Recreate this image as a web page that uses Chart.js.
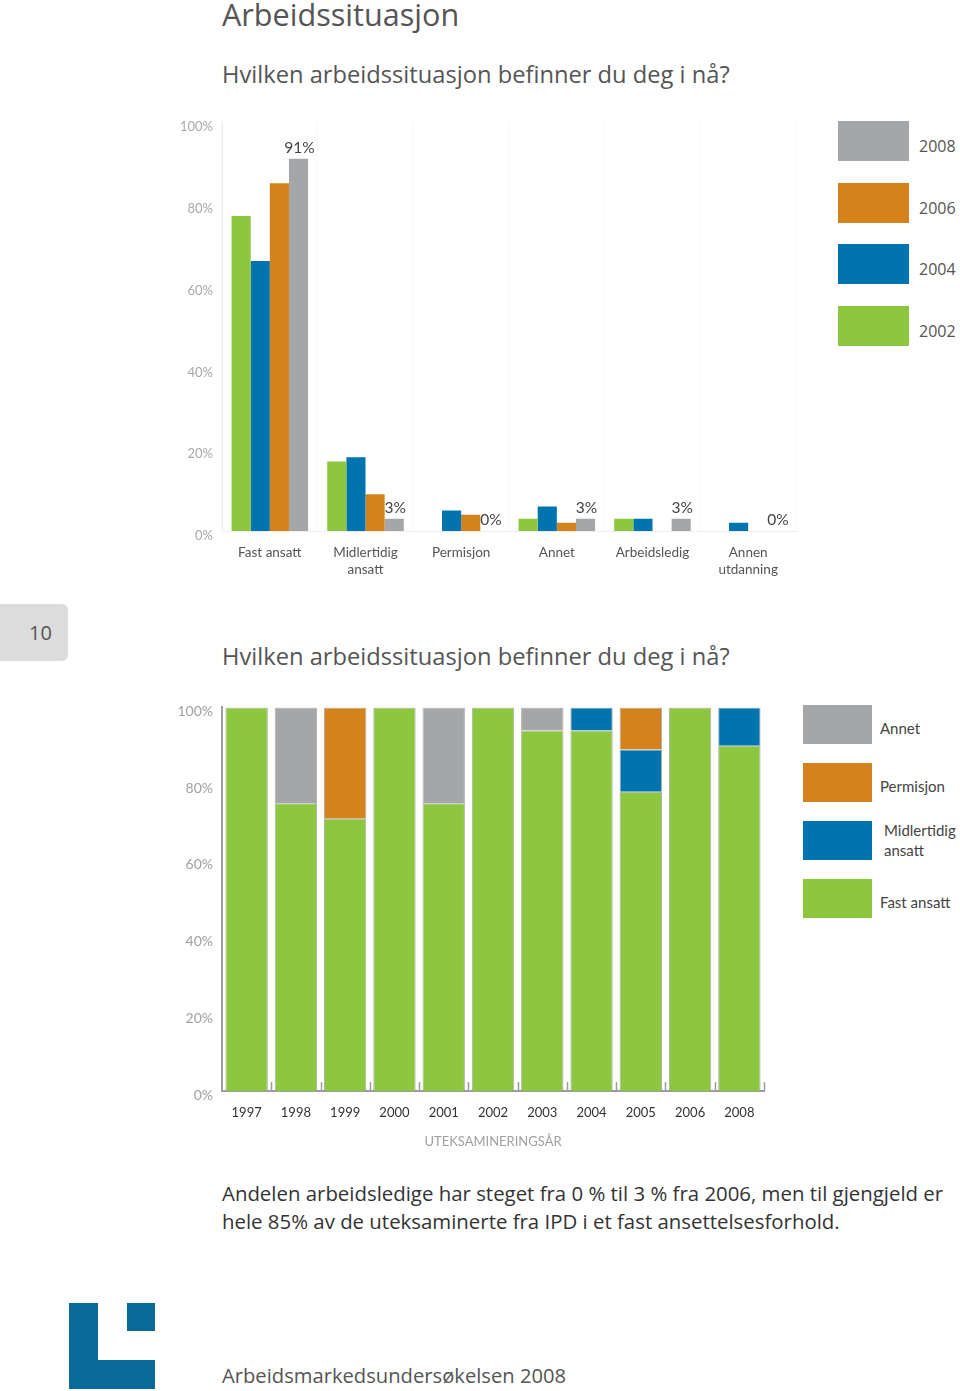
<!DOCTYPE html>
<html>
<head>
<meta charset="utf-8">
<script src="https://cdn.jsdelivr.net/npm/chart.js@4/dist/chart.umd.min.js"></script>
<style>
  body { margin: 0; width: 960px; height: 1391px; position: relative; background: #fff; font-family: "Open Sans", sans-serif; color: #555; overflow: hidden; }
  .abs { position: absolute; }
  .title { left: 222px; top: -7px; font-size: 30.6px; color: #555; white-space: nowrap; }
  .question { left: 222px; font-size: 23.7px; color: #555; white-space: nowrap; }
  .pagebox { left: 0; top: 604px; width: 68px; height: 57px; background: #dcdcdc; border-radius: 0 6px 6px 0; }
  .pagenum { left: 29px; top: 619px; font-size: 20px; color: #555; }
  .legend1 .box { position: absolute; width: 71px; height: 40px; }
  .legend1 .lab { position: absolute; font-size: 16px; color: #555; white-space: nowrap; }
  .legend2 .box { position: absolute; width: 69px; height: 39px; }
  .legend2 .lab { position: absolute; font-family: Lato, sans-serif; font-size: 15px; color: #444; line-height: 20px; white-space: nowrap; }
  .para { left: 222px; top: 1179px; font-size: 20.4px; line-height: 28px; color: #333; white-space: nowrap; }
  .footer { left: 222px; top: 1361px; font-size: 20.2px; color: #555; white-space: nowrap; }
  .logo { background: #0a6a9c; }
</style>
</head>
<body>
<div class="abs title">Arbeidssituasjon</div>
<div class="abs question" style="top:58px">Hvilken arbeidssituasjon befinner du deg i nå?</div>

<div class="abs" style="left:160px; top:105px; width:650px; height:490px;"><canvas id="chartYears"></canvas></div>
<div class="abs legend1" id="legend1"></div>

<div class="abs pagebox"></div>
<div class="abs pagenum">10</div>

<div class="abs question" style="top:640px">Hvilken arbeidssituasjon befinner du deg i nå?</div>
<div class="abs" style="left:160px; top:690px; width:620px; height:464px;"><canvas id="chartStacked"></canvas></div>
<div class="abs legend2" id="legend2"></div>

<div class="abs para">Andelen arbeidsledige har steget fra 0 % til 3 % fra 2006, men til gjengjeld er<br>hele 85% av de uteksaminerte fra IPD i et fast ansettelsesforhold.</div>

<div class="abs logo" style="left:69px; top:1303px; width:29px; height:86px;"></div>
<div class="abs logo" style="left:69px; top:1360px; width:86px; height:29px;"></div>
<div class="abs logo" style="left:127px; top:1303px; width:28px; height:28px;"></div>
<div class="abs footer">Arbeidsmarkedsundersøkelsen 2008</div>

<script>
// chart 1: situasjon per survey year
var situations = [['Fast ansatt'], ['Midlertidig', 'ansatt'], ['Permisjon'], ['Annet'], ['Arbeidsledig'], ['Annen', 'utdanning']];
var surveyYears = ['2002', '2004', '2006', '2008'];
var values2002 = [77, 17, 0, 3, 3, 0];
var values2004 = [66, 18, 5, 6, 3, 2];
var values2006 = [85, 9, 4, 2, 0, 0];
var values2008 = [91, 3, 0, 3, 3, 0];
var yearColors = ['#8dc63f', '#0074ae', '#d4821b', '#a5a6a8'];

// chart 2: stacked shares per graduation year
var gradYears = ['1997', '1998', '1999', '2000', '2001', '2002', '2003', '2004', '2005', '2006', '2008'];
var stackNames = ['Fast ansatt', 'Midlertidig ansatt', 'Permisjon', 'Annet'];
var fastAnsatt = [100, 75, 71, 100, 75, 100, 94, 94, 78, 100, 90];
var midlertidig = [0, 0, 0, 0, 0, 0, 0, 6, 11, 0, 10];
var permisjon = [0, 0, 29, 0, 0, 0, 0, 0, 11, 0, 0];
var annet = [0, 25, 0, 0, 25, 0, 6, 0, 0, 0, 0];
var stackColors = ['#8dc63f', '#0074ae', '#d4821b', '#a5a6a8'];

var percentTicks = [0, 20, 40, 60, 80, 100];

function makeLegend(id, names, colors, boxX, labX, tops, labDy) {
    var el = document.getElementById(id);
    for (var i = names.length - 1; i >= 0; i--) {
        var top = tops[names.length - 1 - i];
        var box = document.createElement('div');
        box.className = 'box';
        box.style.left = boxX + 'px';
        box.style.top = top + 'px';
        box.style.background = colors[i];
        el.appendChild(box);
        var lab = document.createElement('div');
        lab.className = 'lab';
        lab.style.left = labX[i] + 'px';
        lab.style.top = (top + labDy[i]) + 'px';
        lab.innerHTML = names[i];
        el.appendChild(lab);
    }
}

makeLegend('legend1', surveyYears, yearColors, 838, [919, 919, 919, 919], [121, 183, 244, 306], [14, 14, 14, 14]);
makeLegend('legend2', ['Fast ansatt', 'Midlertidig<br>ansatt', 'Permisjon', 'Annet'], stackColors, 803, [880, 884, 880, 880], [705, 763, 821, 879], [13, -1, 13, 13]);

var valueLabels = {
    id: 'valueLabels',
    afterDatasetsDraw: function (chart) {
        var ctx = chart.ctx;
        var meta = chart.getDatasetMeta(3);
        ctx.save();
        ctx.font = '15.5px Lato, sans-serif';
        ctx.fillStyle = '#444';
        ctx.textAlign = 'center';
        ctx.textBaseline = 'bottom';
        meta.data.forEach(function (bar, i) {
            ctx.fillText(values2008[i] + '%', bar.x + 1, bar.y - 3);
        });
        ctx.restore();
    }
};

function drawChartYears() {
    var ctx = document.getElementById('chartYears').getContext('2d');
    var series = [values2002, values2004, values2006, values2008];
    var datasets = [];
    for (var i = 0; i < surveyYears.length; i++) {
        datasets.push({
            label: surveyYears[i],
            data: series[i],
            backgroundColor: yearColors[i],
            barPercentage: 1,
            categoryPercentage: 0.8
        });
    }
    new Chart(ctx, {
        type: 'bar',
        data: { labels: situations, datasets: datasets },
        options: {
            responsive: true,
            maintainAspectRatio: false,
            animation: false,
            layout: { padding: { top: 16, right: 14, left: 0, bottom: 0 } },
            plugins: { legend: { display: false }, tooltip: { enabled: false } },
            scales: {
                x: {
                    afterFit: function (s) { s.height = 64; },
                    grid: { offset: true, color: '#f7f7f7', drawTicks: false },
                    border: { color: '#efefef' },
                    ticks: { color: '#555', padding: 14, font: { family: 'Lato', size: 13.5 } }
                },
                y: {
                    min: 0, max: 100,
                    afterFit: function (s) { s.width = 62; },
                    afterBuildTicks: function (s) { s.ticks = percentTicks.map(function (v) { return { value: v }; }); },
                    grid: { display: false, drawTicks: false },
                    border: { color: '#efefef' },
                    ticks: {
                        color: '#a8a8a8', padding: 9, labelOffset: 5,
                        font: { family: 'Lato', size: 13 },
                        callback: function (v) { return v + '%'; }
                    }
                }
            }
        },
        plugins: [valueLabels]
    });
}

var boundaryTicks = {
    id: 'boundaryTicks',
    afterDraw: function (chart) {
        var ctx = chart.ctx;
        var xs = chart.scales.x;
        var bottom = chart.chartArea.bottom;
        var half = (xs.getPixelForValue(1) - xs.getPixelForValue(0)) / 2;
        ctx.save();
        ctx.strokeStyle = '#9d9d9d';
        ctx.lineWidth = 1.5;
        for (var i = 0; i < gradYears.length; i++) {
            var x = Math.round(xs.getPixelForValue(i) + half) + 0.5;
            ctx.beginPath();
            ctx.moveTo(x, bottom);
            ctx.lineTo(x, bottom - 9);
            ctx.stroke();
        }
        ctx.restore();
    }
};

function drawChartStacked() {
    var ctx = document.getElementById('chartStacked').getContext('2d');
    var series = [fastAnsatt, midlertidig, permisjon, annet];
    var datasets = [];
    for (var i = 0; i < stackNames.length; i++) {
        datasets.push({
            label: stackNames[i],
            data: series[i],
            backgroundColor: stackColors[i],
            borderColor: 'rgba(140,140,140,0.7)',
            borderWidth: 1,
            borderSkipped: 'bottom',
            barPercentage: 0.86,
            categoryPercentage: 1
        });
    }
    new Chart(ctx, {
        type: 'bar',
        data: { labels: gradYears, datasets: datasets },
        options: {
            responsive: true,
            maintainAspectRatio: false,
            animation: false,
            layout: { padding: { top: 14, right: 16, left: 0, bottom: 0 } },
            plugins: { legend: { display: false }, tooltip: { enabled: false } },
            scales: {
                x: {
                    stacked: true,
                    afterFit: function (s) { s.height = 63; },
                    grid: { display: false },
                    border: { color: '#9d9d9d', width: 2 },
                    ticks: { color: '#333', padding: 6, font: { family: 'Lato', size: 13 } },
                    title: {
                        display: true, text: 'UTEKSAMINERINGSÅR', color: '#a0a0a0',
                        padding: { top: 6 }, font: { family: 'Lato', size: 13 }
                    }
                },
                y: {
                    stacked: true,
                    min: 0, max: 100,
                    afterFit: function (s) { s.width = 62; },
                    afterBuildTicks: function (s) { s.ticks = percentTicks.map(function (v) { return { value: v }; }); },
                    grid: { display: false, drawTicks: false },
                    border: { color: '#9d9d9d', width: 2 },
                    ticks: {
                        color: '#a0a0a0', padding: 9, labelOffset: 4,
                        font: { family: 'Lato', size: 14 },
                        callback: function (v) { return v + '%'; }
                    }
                }
            }
        },
        plugins: [boundaryTicks]
    });
}

drawChartYears();
drawChartStacked();
</script>
</body>
</html>
